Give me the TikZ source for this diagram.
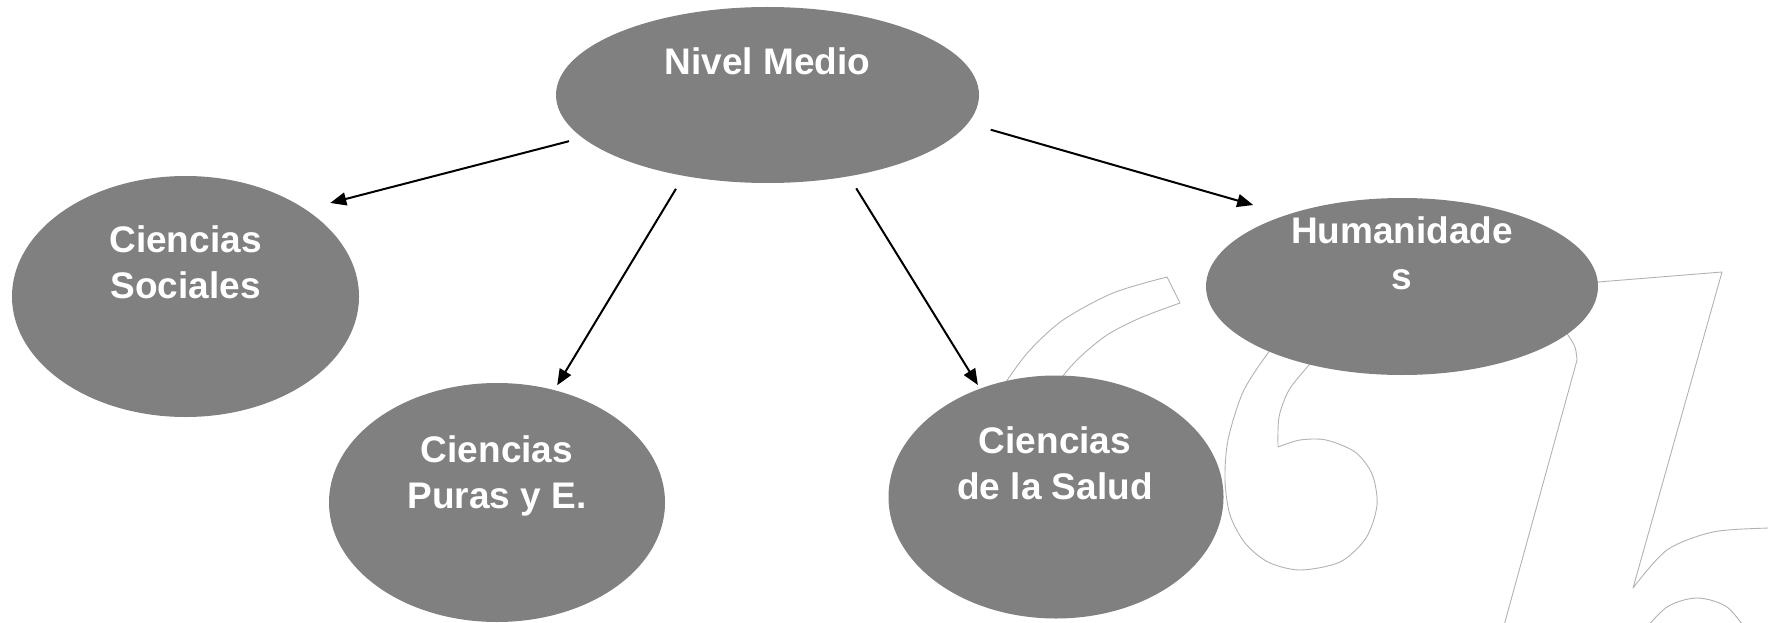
\documentclass[tikz,border=0pt]{standalone}
\usepackage{fontspec}
\setmainfont{Liberation Sans}
\usepackage{tikz}
\usetikzlibrary{shapes.geometric, arrows.meta}
\tikzstyle{bubble} = [ellipse, fill=gray, inner sep=0pt, outer sep=0pt]
\tikzstyle{bubbletext} = [text=white, font=\bfseries\fontsize{37}{46}\selectfont, align=center, inner sep=0pt, anchor=base]
\tikzstyle{link} = [line width=2pt, -{Triangle[length=16pt,width=13pt]}]
\tikzstyle{ghost} = [gray!60, line width=0.9pt, line join=round]

\begin{document}
\begin{tikzpicture}[x=1pt, y=-1pt]
    \useasboundingbox (0,0) rectangle (1768,623);
    \clip (0,0) rectangle (1768,623);
    % big outlined numbers behind
    \draw[ghost] plot[smooth] coordinates {(1000,395) (1008,379) (1030,350) (1063,320) (1113,293) (1167,277)}
        -- plot[smooth] coordinates {(1180,303) (1140,318) (1107,335) (1080,357) (1063,376) (1055,392)};
    \draw[ghost] plot[smooth] coordinates {(1285,335) (1268,353) (1243,392) (1228,440) (1225,480) (1230,515) (1245,543) (1268,562) (1300,570) (1340,562) (1366,538) (1377,505) (1372,474) (1355,452) (1326,440) (1300,440) (1278,447)}
        -- plot[smooth] coordinates {(1278,447) (1279,417) (1289,390) (1308,366) (1325,345)};
    \draw[ghost] (1580,283) -- (1598,282) -- (1722,272) -- (1633,588)
        -- plot[smooth] coordinates {(1633,588) (1667,550) (1713,532) (1768,528) (1790,528)};
    \draw[ghost] plot[smooth] coordinates {(1560,325) (1568,335) (1575,347) (1577,360)} -- (1500,640);
    \draw[ghost] plot[smooth] coordinates {(1640,635) (1667,607) (1697,598) (1727,607) (1750,635)};
    % ellipses
    \node[bubble, minimum width=423pt, minimum height=176pt] (nm) at (767.5,95) {};
    \node[bubble, minimum width=347pt, minimum height=241pt] (soc) at (185.5,296.5) {};
    \node[bubble, minimum width=336pt, minimum height=239pt] (pur) at (497,502.5) {};
    \node[bubble, minimum width=335pt, minimum height=243pt] (sal) at (1056,497) {};
    \node[bubble, minimum width=392pt, minimum height=177pt] (hum) at (1402,286.5) {};
    \node[bubbletext] (nm-t) at (767.5,75) {Nivel Medio};
    \node[bubbletext] (soc-t) at (185.5,298) {Ciencias\\Sociales};
    \node[bubbletext] (pur-t) at (497,508) {Ciencias\\Puras y E.};
    \node[bubbletext] (sal-t) at (1055,499) {Ciencias\\de la Salud};
    \node[bubbletext] (hum-t) at (1402,289) {Humanidade\\s};
    % arrows
    \draw[link, shorten <=14pt, shorten >=25.7pt] (nm.193.75) -- (soc.36.1);
    \draw[link, shorten <=15.2pt, shorten >=5.7pt] (nm.224.5) -- (pur.63.6);
    \draw[link, shorten <=14.2pt, shorten >=4.3pt] (nm.315.8) -- (sal.125);
    \draw[link, shorten <=23.8pt, shorten >=35.4pt] (nm.352.9) -- (hum.148.45);
\end{tikzpicture}
\end{document}
